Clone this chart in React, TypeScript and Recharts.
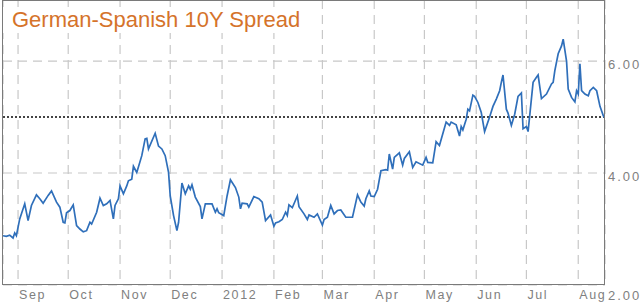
import React from 'react';
import { LineChart, Line, XAxis, YAxis, CartesianGrid, ReferenceLine } from 'recharts';

// Daily closes, Aug 2011 - Aug 2012 (percentage points)
const dates = [
  '2011-08-23', '2011-08-25', '2011-08-27', '2011-08-29', '2011-08-30', '2011-08-31',
  '2011-09-02', '2011-09-05', '2011-09-07', '2011-09-09', '2011-09-12', '2011-09-14',
  '2011-09-16', '2011-09-19', '2011-09-21', '2011-09-24', '2011-09-26', '2011-09-28',
  '2011-09-29', '2011-09-30', '2011-10-02', '2011-10-04', '2011-10-06', '2011-10-08',
  '2011-10-10', '2011-10-12', '2011-10-14', '2011-10-15', '2011-10-18', '2011-10-20',
  '2011-10-22', '2011-10-24', '2011-10-26', '2011-10-28', '2011-10-29', '2011-10-31',
  '2011-11-01', '2011-11-03', '2011-11-05', '2011-11-06', '2011-11-08', '2011-11-09',
  '2011-11-11', '2011-11-14', '2011-11-16', '2011-11-17', '2011-11-18', '2011-11-22',
  '2011-11-24', '2011-11-26', '2011-11-28', '2011-11-30', '2011-12-01', '2011-12-03',
  '2011-12-05', '2011-12-06', '2011-12-08', '2011-12-10', '2011-12-12', '2011-12-13',
  '2011-12-14', '2011-12-16', '2011-12-19', '2011-12-20', '2011-12-22', '2011-12-26',
  '2011-12-28', '2011-12-29', '2011-12-30', '2012-01-02', '2012-01-04', '2012-01-06',
  '2012-01-09', '2012-01-11', '2012-01-12', '2012-01-13', '2012-01-16', '2012-01-17',
  '2012-01-20', '2012-01-23', '2012-01-25', '2012-01-27', '2012-01-30', '2012-02-01',
  '2012-02-02', '2012-02-04', '2012-02-06', '2012-02-08', '2012-02-09', '2012-02-10',
  '2012-02-12', '2012-02-15', '2012-02-16', '2012-02-19', '2012-02-21', '2012-02-22',
  '2012-02-25', '2012-02-27', '2012-03-01', '2012-03-02', '2012-03-04', '2012-03-06',
  '2012-03-08', '2012-03-10', '2012-03-12', '2012-03-15', '2012-03-19', '2012-03-22',
  '2012-03-24', '2012-03-26', '2012-03-27', '2012-03-29', '2012-03-30', '2012-04-01',
  '2012-04-03', '2012-04-05', '2012-04-08', '2012-04-09', '2012-04-10', '2012-04-12',
  '2012-04-13', '2012-04-16', '2012-04-18', '2012-04-19', '2012-04-22', '2012-04-24',
  '2012-04-26', '2012-04-30', '2012-05-02', '2012-05-03', '2012-05-06', '2012-05-08',
  '2012-05-10', '2012-05-12', '2012-05-14', '2012-05-16', '2012-05-17', '2012-05-20',
  '2012-05-22', '2012-05-23', '2012-05-24', '2012-05-26', '2012-05-27', '2012-05-28',
  '2012-05-30', '2012-05-31', '2012-06-02', '2012-06-04', '2012-06-06', '2012-06-09',
  '2012-06-11', '2012-06-13', '2012-06-15', '2012-06-16', '2012-06-17', '2012-06-19',
  '2012-06-20', '2012-06-22', '2012-06-24', '2012-06-26', '2012-06-28', '2012-06-29',
  '2012-07-01', '2012-07-02', '2012-07-05', '2012-07-07', '2012-07-08', '2012-07-10',
  '2012-07-13', '2012-07-16', '2012-07-17', '2012-07-18', '2012-07-20', '2012-07-22',
  '2012-07-23', '2012-07-25', '2012-07-26', '2012-07-28', '2012-07-30', '2012-07-31',
  '2012-08-01', '2012-08-02', '2012-08-03', '2012-08-05', '2012-08-07', '2012-08-08',
  '2012-08-10', '2012-08-12', '2012-08-14', '2012-08-16', '2012-08-17',
];

const spread = [
  2.88, 2.87, 2.89, 2.84, 2.93, 2.88,
  3.18, 3.45, 3.15, 3.42, 3.61, 3.54,
  3.46, 3.60, 3.68, 3.48, 3.39, 3.12,
  3.11, 3.29, 3.33, 3.43, 3.06, 3.00,
  2.95, 2.97, 3.12, 3.09, 3.30, 3.55,
  3.42, 3.45, 3.51, 3.18, 3.42, 3.54,
  3.77, 3.63, 3.77, 3.86, 3.89, 4.12,
  4.01, 4.31, 4.61, 4.62, 4.43, 4.71,
  4.48, 4.43, 4.31, 4.01, 3.59, 3.24,
  2.97, 3.12, 3.82, 3.63, 3.77, 3.71,
  3.79, 3.57, 3.40, 3.18, 3.45, 3.45,
  3.30, 3.36, 3.29, 3.24, 3.59, 3.88,
  3.74, 3.57, 3.36, 3.46, 3.45, 3.39,
  3.58, 3.54, 3.48, 3.15, 3.25, 3.05,
  3.11, 3.13, 3.17, 3.30, 3.24, 3.43,
  3.38, 3.59, 3.40, 3.27, 3.17, 3.25,
  3.21, 3.27, 3.07, 3.17, 3.21, 3.42,
  3.27, 3.33, 3.34, 3.21, 3.21, 3.61,
  3.48, 3.41, 3.54, 3.68, 3.59, 3.58,
  3.71, 4.04, 4.06, 4.05, 4.34, 4.07,
  4.28, 4.36, 4.14, 4.26, 4.38, 4.10,
  4.20, 4.14, 4.28, 4.19, 4.18, 4.56,
  4.49, 4.70, 4.91, 4.85, 4.91, 4.86,
  4.66, 4.83, 4.77, 4.96, 5.14, 5.11,
  5.39, 5.37, 5.26, 5.08, 4.74, 5.00,
  5.19, 5.32, 5.47, 5.62, 5.75, 5.14,
  5.07, 4.85, 5.05, 5.37, 5.43, 4.79,
  4.83, 4.74, 5.62, 5.71, 5.75, 5.33,
  5.41, 5.59, 5.62, 5.83, 6.13, 6.27,
  6.39, 6.00, 5.50, 5.35, 5.27, 5.47,
  5.41, 5.95, 5.47, 5.41, 5.38, 5.47,
  5.53, 5.47, 5.19, 5.02, 4.98,
];

const monthStarts = [
  '2011-09-01', '2011-10-01', '2011-11-01', '2011-12-01', '2012-01-01', '2012-02-01',
  '2012-03-01', '2012-04-01', '2012-05-01', '2012-06-01', '2012-07-01', '2012-08-01',
];
const monthLabels = ['Sep', 'Oct', 'Nov', 'Dec', '2012', 'Feb', 'Mar', 'Apr', 'May', 'Jun', 'Jul', 'Aug'];
const yTicks = [2, 4, 6];
const average = 5.0;

const toTime = (d: string) => Date.parse(d + 'T00:00:00Z');
const data = dates.map((d, i) => ({ t: toTime(d), v: spread[i] }));
const xTicks = monthStarts.map(toTime);
const xDomain = [toTime('2011-08-23'), toTime('2012-08-17')];

const W = 640;
const H = 304;
const TICK_FONT = '"Liberation Sans", Arial, sans-serif';

const MonthTick = ({ x, y, index }: any) => (
  <text x={x + 1} y={y + 6} textAnchor="start" fill="#808080" fontSize={12.5} fontFamily={TICK_FONT} letterSpacing={1.6}>
    {monthLabels[index]}
  </text>
);

// labels hang just under their gridline; the bottom one sits below the frame
const ValueTick = ({ x, y, payload }: any) => (
  <text x={x - 5} y={payload.value === 2 ? y + 15 : y + 8} textAnchor="start" fill="#808080" fontSize={13} fontFamily={TICK_FONT} letterSpacing={2}>
    {payload.value.toFixed(2)}
  </text>
);

export default function App() {
  return (
    <div style={{ position: 'absolute', left: 0, top: 0, width: W, height: H, background: '#fff' }}>
      <LineChart width={W} height={H} data={data} margin={{ top: 0, right: 0, bottom: 0, left: 3 }}>
        <CartesianGrid stroke="#c8c8c8" strokeDasharray="9 6" strokeWidth={1.2} />
        <XAxis
          dataKey="t"
          type="number"
          domain={xDomain}
          ticks={xTicks}
          allowDataOverflow
          height={19}
          axisLine={false}
          tickLine={false}
          tick={<MonthTick />}
          interval={0}
        />
        <YAxis
          orientation="right"
          type="number"
          domain={[2, 7.09]}
          ticks={yTicks}
          allowDataOverflow
          width={35}
          axisLine={false}
          tickLine={false}
          tick={<ValueTick />}
          interval={0}
        />
        <ReferenceLine y={average} stroke="#444" strokeWidth={2} strokeDasharray="2 2" />
        <Line
          type="linear"
          dataKey="v"
          stroke="#2f6fba"
          strokeWidth={1.7}
          dot={false}
          isAnimationActive={false}
        />
      </LineChart>
      {/* plot frame */}
      <div
        style={{
          position: 'absolute',
          left: 2,
          top: 0,
          width: 603,
          height: 285,
          border: '1px solid #7a7a7a',
          boxSizing: 'border-box',
          pointerEvents: 'none',
        }}
      />
      <div
        style={{
          position: 'absolute',
          left: 3,
          top: 7,
          padding: '0 8px 0 9px',
          background: '#fff',
          color: '#d5732a',
          fontFamily: '"Liberation Sans", Arial, sans-serif',
          fontSize: 22,
          lineHeight: '26px',
          whiteSpace: 'nowrap',
        }}
      >
        German-Spanish 10Y Spread
      </div>
    </div>
  );
}
